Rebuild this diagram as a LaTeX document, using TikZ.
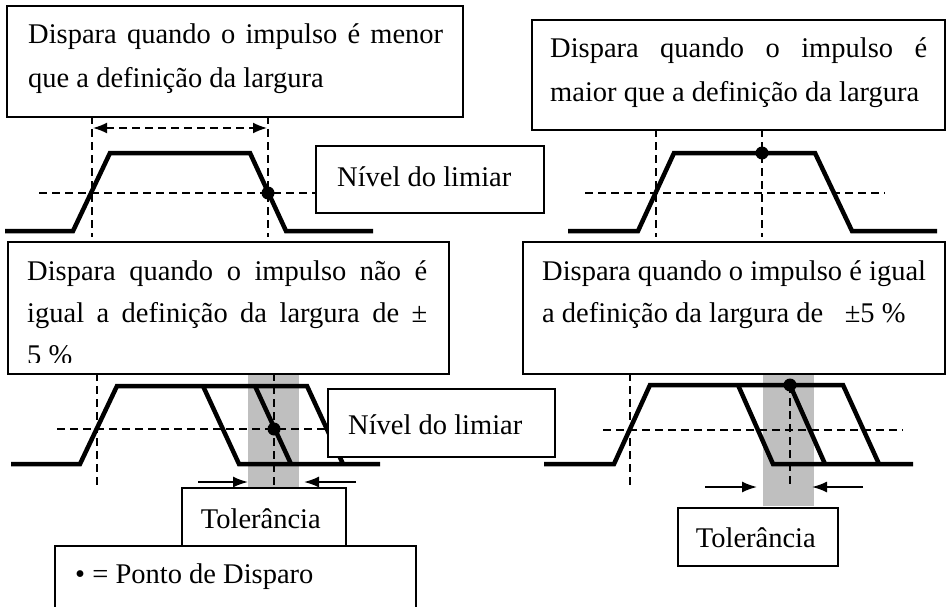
\documentclass[tikz,border=0pt]{standalone}
\usepackage{fontspec}
\setmainfont{Liberation Serif}
\usetikzlibrary{arrows.meta}

\begin{document}
\begin{tikzpicture}[x=1pt,y=-1pt,
    box/.style={draw,line width=1.6pt,fill=white,inner sep=0pt,anchor=north west},
    txt/.style={inner sep=0pt,anchor=base west,font=\fontsize{28.5}{44}\selectfont},
    pulse/.style={line width=4.5pt},
    guide/.style={line width=1.7pt,dash pattern=on 8pt off 5pt},
    band/.style={fill=black!25},
    dot/.style={circle,fill=black,inner sep=0pt,minimum size=13pt},
    tol/.style={line width=1.7pt,-{Latex[length=15pt,width=11pt]}}]
  \useasboundingbox (0,0) rectangle (947,607);

  % menor que a largura
  \draw[guide] (92,116) -- (92,237) (268,116) -- (268,237) (39,193) -- (320,193);
  \draw[guide,{Latex[length=14pt,width=11pt]}-{Latex[length=14pt,width=11pt]}] (93,128) -- (267,128);
  \draw[pulse] (5,231) -- (73,231) -- (110,153) -- (250,153) -- (286,231) -- (373,231);
  \node[dot] (trigA) at (268,193) {};
  \node[box,minimum width=456pt,minimum height=111pt] (menor) at (6,5) {};
  \node[txt] (menortxt) at ([shift={(22,39)}]menor.north west)
    {\parbox[t]{415pt}{Dispara quando o impulso é menor\linebreak que a definição da largura}};
  \node[box,minimum width=228pt,minimum height=67pt] (limiar) at (315,145) {};
  \node[txt] (limiartxt) at ([shift={(22,41)}]limiar.north west) {Nível do limiar};

  % maior que a largura
  \draw[guide] (656,129) -- (656,237) (762,129) -- (762,237) (585,193) -- (885,193);
  \draw[pulse] (568,231) -- (638,231) -- (674,153) -- (815,153) -- (852,231) -- (937,231);
  \node[dot] (trigB) at (762,153) {};
  \node[box,minimum width=413pt,minimum height=110pt] (maior) at (531,19) {};
  \node[txt] (maiortxt) at ([shift={(19,39)}]maior.north west)
    {\parbox[t]{377pt}{Dispara quando o impulso é\linebreak maior que a definição da largura}};

  % diferente de +-5 %
  \fill[band] (248,373) rectangle (299,487);
  \draw[guide] (97,373) -- (97,489) (274,373) -- (274,487) (57,429) -- (340,429);
  \draw[pulse] (11,464) -- (80,464) -- (117,386) -- (307,386) -- (343,464);
  \draw[pulse] (203,386) -- (239,464) -- (380,464);
  \draw[pulse] (255,386) -- (291,464);
  \node[dot] (trigC) at (274,429) {};
  \draw[tol] (198,482) -- (248,482);
  \draw[tol] (356,482) -- (304,482);
  \node[box,minimum width=441pt,minimum height=132pt] (naoigual) at (7,241) {};
  \begin{scope}
    \clip (7,241) rectangle (448,362);
    \node[txt,font=\fontsize{28.5}{42}\selectfont] (naoigualtxt) at ([shift={(20,39)}]naoigual.north west)
      {\parbox[t]{400pt}{Dispara quando o impulso não é\linebreak igual a definição da largura de ±\linebreak 5 \%}};
  \end{scope}
  \node[box,minimum width=227pt,minimum height=68pt] (limiarb) at (327,388) {};
  \node[txt] (limiarbtxt) at ([shift={(21,46)}]limiarb.north west) {Nível do limiar};
  \node[box,minimum width=164pt,minimum height=58pt] (tola) at (181,487) {};
  \node[txt,anchor=base] (tolatxt) at ([shift={(-3,41)}]tola.north) {Tolerância};
  \node[box,minimum width=361pt,minimum height=75pt] (ponto) at (54,545) {};
  \node[txt] (pontotxt) at ([shift={(21,38)}]ponto.north west) {• = Ponto de Disparo};

  % igual a +-5 %
  \fill[band] (763,373) rectangle (814,506);
  \draw[guide] (630,373) -- (630,489) (790,385) -- (790,487) (603,430) -- (903,430);
  \draw[pulse] (544,464) -- (614,464) -- (650,385) -- (843,385) -- (879,464);
  \draw[pulse] (738,385) -- (773,464) -- (913,464);
  \draw[pulse] (790,385) -- (825,464);
  \node[dot] (trigD) at (790,385) {};
  \draw[tol] (705,487) -- (757,487);
  \draw[tol] (863,487) -- (812,487);
  \node[box,minimum width=422pt,minimum height=132pt] (igual) at (522,241) {};
  \node[txt,font=\fontsize{28.5}{42}\selectfont] (igualtxt) at ([shift={(20,39)}]igual.north west)
    {\parbox[t]{390pt}{Dispara quando o impulso é igual\\ a definição da largura de\enspace\ ±5 \%}};
  \node[box,minimum width=160pt,minimum height=58pt] (tolb) at (677,507) {};
  \node[txt,anchor=base] (tolbtxt) at ([shift={(-2,40)}]tolb.north) {Tolerância};
\end{tikzpicture}
\end{document}
